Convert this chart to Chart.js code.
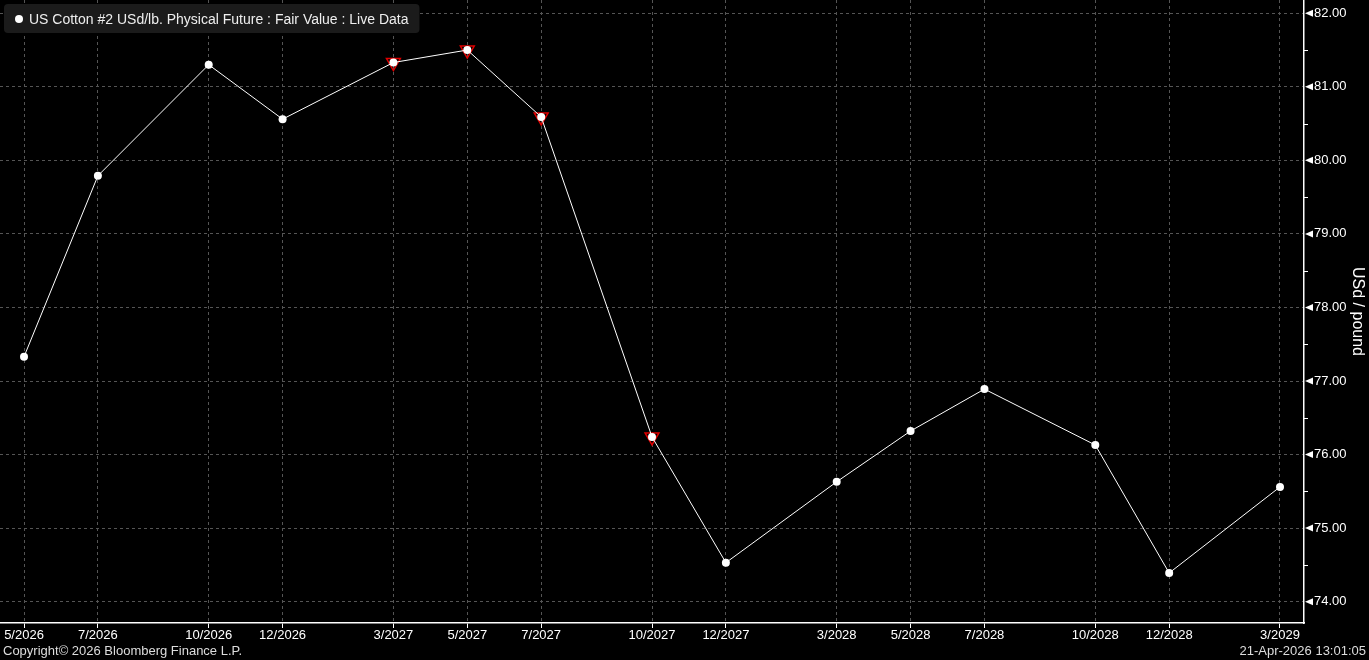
<!DOCTYPE html>
<html lang="en">

<head>
    <meta charset="UTF-8">
    <title>US Cotton #2 Fair Value</title>
    <script src="https://cdn.jsdelivr.net/npm/chart.js"></script>
    <style>
        html, body { margin: 0; padding: 0; background: #000; }
        #wrap { width: 1369px; height: 660px; }
    </style>
</head>

<body>
    <div id="wrap"><canvas id="curveChart"></canvas></div>

    <script>
        // contract months, as months after 5/2026
        const contracts = ['5/2026', '7/2026', '10/2026', '12/2026', '3/2027', '5/2027', '7/2027', '10/2027',
            '12/2027', '3/2028', '5/2028', '7/2028', '10/2028', '12/2028', '3/2029'];
        const monthOffsets = [0, 2, 5, 7, 10, 12, 14, 17, 19, 22, 24, 26, 29, 31, 34];
        const fairValues = [77.33, 79.79, 81.30, 80.56, 81.33, 81.50, 80.59, 76.24,
            74.53, 75.63, 76.32, 76.89, 76.13, 74.39, 75.56];
        // contracts flagged with the red marker
        const flagged = ['3/2027', '5/2027', '7/2027', '10/2027'];
        const yTicks = [74, 75, 76, 77, 78, 79, 80, 81, 82];

        const seriesName = 'US Cotton #2 USd/lb. Physical Future : Fair Value : Live Data';
        const FONT = '"Liberation Sans", Arial, sans-serif';

        const linePoints = monthOffsets.map((m, i) => ({ x: m, y: fairValues[i] }));
        const flagPoints = monthOffsets
            .map((m, i) => ({ x: m, y: fairValues[i], name: contracts[i] }))
            .filter(p => flagged.includes(p.name));

        // legend box, arrows on the value axis, footer texts
        const decorations = {
            id: 'decorations',
            afterDraw(chart) {
                const ctx = chart.ctx;
                const area = chart.chartArea;
                const y = chart.scales.y;
                ctx.save();

                // arrows + minor ticks on the right axis
                ctx.fillStyle = '#fff';
                ctx.strokeStyle = '#fff';
                ctx.lineWidth = 1;
                yTicks.forEach(v => {
                    const py = y.getPixelForValue(v);
                    ctx.beginPath();
                    ctx.moveTo(area.right + 1, py);
                    ctx.lineTo(area.right + 9, py - 3.5);
                    ctx.lineTo(area.right + 9, py + 3.5);
                    ctx.closePath();
                    ctx.fill();
                    const half = y.getPixelForValue(v + 0.5);
                    if (half > area.top) {
                        ctx.beginPath();
                        ctx.moveTo(area.right, Math.round(half) + 0.5);
                        ctx.lineTo(area.right + 4, Math.round(half) + 0.5);
                        ctx.stroke();
                    }
                });

                // legend box
                ctx.font = '14px ' + FONT;
                const tw = ctx.measureText(seriesName).width;
                ctx.fillStyle = '#1b1b1b';
                ctx.beginPath();
                ctx.roundRect(4, 4, tw + 36, 29, 4);
                ctx.fill();
                ctx.fillStyle = '#fff';
                ctx.beginPath();
                ctx.arc(19, 19, 4, 0, Math.PI * 2);
                ctx.fill();
                ctx.fillStyle = '#eee';
                ctx.textBaseline = 'middle';
                ctx.textAlign = 'left';
                ctx.fillText(seriesName, 29, 20);

                // footer
                ctx.fillStyle = '#ddd';
                ctx.font = '13px ' + FONT;
                ctx.fillText('Copyright\u00a9 2026 Bloomberg Finance L.P.', 3, 651);
                ctx.textAlign = 'right';
                ctx.fillText('21-Apr-2026 13:01:05', 1366, 651);
                ctx.restore();
            }
        };

        const ctx = document.getElementById('curveChart').getContext('2d');
        const curveChart = new Chart(ctx, {
            type: 'line',
            data: {
                datasets: [{
                    label: seriesName,
                    data: linePoints,
                    borderColor: '#fff',
                    borderWidth: 1,
                    pointRadius: 4,
                    pointBackgroundColor: '#fff',
                    pointBorderWidth: 0,
                    order: 1
                }, {
                    label: 'flags',
                    data: flagPoints,
                    showLine: false,
                    pointStyle: 'triangle',
                    rotation: 180,
                    pointRadius: 8,
                    pointBorderColor: '#e00000',
                    pointBorderWidth: 1.5,
                    pointBackgroundColor: 'rgba(0,0,0,0)',
                    order: 2
                }]
            },
            options: {
                responsive: true,
                maintainAspectRatio: false,
                animation: false,
                layout: { autoPadding: false, padding: { left: 0, right: 0, top: 0, bottom: 15 } },
                plugins: {
                    legend: { display: false },
                    tooltip: { enabled: false }
                },
                scales: {
                    x: {
                        type: 'linear',
                        min: -0.65,
                        max: 34.65,
                        afterBuildTicks: axis => {
                            axis.ticks = monthOffsets.map(v => ({ value: v }));
                        },
                        afterFit: axis => {
                            axis.height = 22;
                            axis.paddingLeft = 0;
                            axis.paddingRight = 0;
                        },
                        ticks: {
                            color: '#fff',
                            font: { family: FONT, size: 13 },
                            padding: 0,
                            maxRotation: 0,
                            autoSkip: false,
                            callback: (v) => contracts[monthOffsets.indexOf(v)]
                        },
                        grid: {
                            color: '#555',
                            tickColor: '#fff',
                            tickLength: 5,
                            tickBorderDash: []
                        },
                        border: { color: '#fff', width: 1.5, dash: [3, 3] }
                    },
                    y: {
                        position: 'right',
                        min: 73.71,
                        max: 82.18,
                        afterBuildTicks: axis => {
                            axis.ticks = yTicks.map(v => ({ value: v }));
                        },
                        afterFit: axis => {
                            axis.width = 65;
                            axis.paddingTop = 0;
                            axis.paddingBottom = 0;
                        },
                        ticks: {
                            color: '#fff',
                            font: { family: FONT, size: 13 },
                            padding: 10,
                            callback: v => v.toFixed(2)
                        },
                        grid: {
                            color: '#555',
                            drawTicks: false
                        },
                        border: { color: '#fff', width: 1.5, dash: [3, 3] },
                        title: {
                            display: true,
                            text: 'USd / pound',
                            color: '#fff',
                            font: { family: FONT, size: 16 },
                            padding: { top: 2, bottom: 0 }
                        }
                    }
                }
            },
            plugins: [decorations]
        });
    </script>
</body>

</html>
